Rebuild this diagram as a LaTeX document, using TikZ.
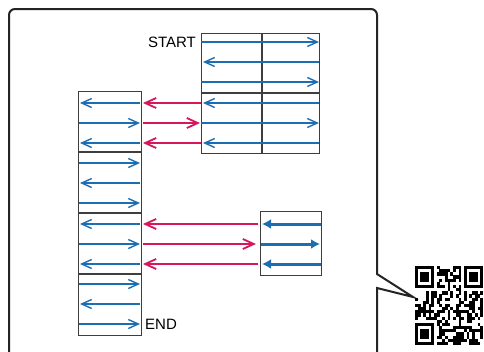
\documentclass[tikz,border=0pt]{standalone}
\usepackage{fontspec}
\setmainfont{Liberation Sans}
\usetikzlibrary{arrows.meta}
\definecolor{blu}{HTML}{1C6DB2}
\definecolor{rd}{HTML}{D6175C}
\definecolor{frm}{HTML}{262324}
\definecolor{tb}{HTML}{3E3E3E}
\tikzset{
  tbl/.style={draw=tb, line width=1.3pt},
  barr/.style={draw=blu, line width=1.4pt, -{Straight Barb[length=10pt,width=9pt,line width=1.4pt]}},
  rarr/.style={draw=rd, line width=2.4pt, -{Straight Barb[length=11pt,width=10pt,line width=1.8pt]}},
  bbarr/.style={draw=blu, line width=3pt, -{Latex[length=9pt,width=10pt]}},
  frame/.style={draw=frm, line width=2pt, rounded corners=6pt},
  lbl/.style={font=\fontsize{15}{17}\selectfont, text=black, inner sep=0pt},
}
\begin{document}
\begin{tikzpicture}[x=1pt,y=-1pt]
\useasboundingbox (0,0) rectangle (484,351);
% frame with callout
\draw[frame] (9,360) -- (9,9) -- (377,9) [sharp corners] -- (377,274) -- (413,297) -- (377,288) -- (377,360);
% right table
\node[tbl, minimum width=118pt, minimum height=120pt, anchor=north west, inner sep=0pt] (R) at (201,33) {};
\draw[tbl] (262,33) -- (262,153) (201,93) -- (319,93);
% left table
\node[tbl, minimum width=63pt, minimum height=244pt, anchor=north west, inner sep=0pt] (L) at (78,91) {};
\draw[tbl] (78,152) -- (141,152) (78,213) -- (141,213) (78,274) -- (141,274);
% small table
\node[tbl, minimum width=61pt, minimum height=64pt, anchor=north west, inner sep=0pt] (S) at (260,211) {};
% right table arrows
\foreach \k/\yy in {0/42,1/62,2/82,3/103,4/123,5/143}{
  \coordinate (ra\k) at (201,\yy);
  \coordinate (rb\k) at (319,\yy);
  \ifodd\k
    \draw[barr] (rb\k) -- ([xshift=2pt]ra\k);
  \else
    \draw[barr] (ra\k) -- (rb\k);
  \fi
}
% left table arrows
\foreach \k/\yy in {0/103,1/123,2/143,3/163,4/183,5/203,6/224,7/244,8/264,9/284,10/304,11/324}{
  \coordinate (la\k) at (79,\yy);
  \coordinate (lb\k) at (140,\yy);
  \ifodd\k
    \draw[barr] (la\k) -- (lb\k);
  \else
    \draw[barr] (lb\k) -- ([xshift=1pt]la\k);
  \fi
}
% small table arrow ends
\foreach \k/\yy in {0/224,1/244,2/264}{
  \coordinate (sa\k) at (261,\yy);
  \coordinate (sb\k) at (321,\yy);
}
% red arrows top
\draw[rarr] (ra3) -- ([xshift=3pt]lb0);
\draw[rarr] ([xshift=3pt]lb1) -- ([xshift=-1pt]ra4);
\draw[rarr] (ra5) -- ([xshift=3pt]lb2);
% small table arrows
\draw[bbarr] (sb0) -- ([xshift=1pt]sa0);
\draw[bbarr] (sa1) -- ([xshift=-1pt]sb1);
\draw[bbarr] (sb2) -- ([xshift=1pt]sa2);
% red arrows bottom
\draw[rarr] ([xshift=-3pt]sa0) -- ([xshift=3pt]lb6);
\draw[rarr] ([xshift=3pt]lb7) -- ([xshift=-5pt]sa1);
\draw[rarr] ([xshift=-3pt]sa2) -- ([xshift=3pt]lb8);
% labels
\node[lbl, anchor=east] (start) at (196,42) {START};
\node[lbl, anchor=west] (end) at (145,324) {END};
% QR code
\begin{scope}[shift={(415,266)}, x=2.72pt, y=-3.16pt]
  \pgfmathsetseed{7}
  \foreach \i in {0,...,24}{
    \foreach \j in {0,...,24}{
      \pgfmathtruncatemacro\skp{or(and(\i<8,\j<8),or(and(\i>16,\j<8),and(\i<8,\j>16)))}
      \pgfmathtruncatemacro\bb{ifthenelse(\skp==1,0,rnd<0.5)}
      \ifnum\bb=1 \fill[black] (\i,\j) rectangle ++(1.02,1.02); \fi
    }
  }
  \foreach \ox/\oy in {0/0,18/0,0/18}{
    \fill[black] (\ox,\oy) rectangle ++(7,7);
    \fill[white] (\ox+1,\oy+1) rectangle ++(5,5);
    \fill[black] (\ox+2,\oy+2) rectangle ++(3,3);
  }
\end{scope}
\end{tikzpicture}
\end{document}
